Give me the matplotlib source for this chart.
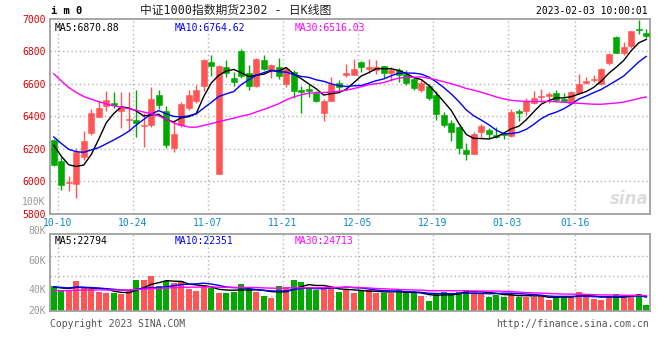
import matplotlib
matplotlib.use("Agg")
import matplotlib.pyplot as plt
import matplotlib.transforms as mtransforms
import numpy as np
import pandas as pd

plt.rcParams['font.family'] = ['DejaVu Sans Mono', 'Noto Sans CJK SC']

# daily bars of IM2302, first bar is 2022-09-30, last is 2023-02-03
opens = [6250, 6125, 5990, 5984, 6147, 6298, 6396, 6463, 6480, 6433,
         6378, 6376, 6340, 6343, 6532, 6431, 6201, 6343, 6451, 6491,
         6585, 6733, 6045, 6700, 6634, 6800, 6666, 6587, 6745, 6684,
         6703, 6597, 6672, 6562, 6568, 6542, 6420, 6495, 6601, 6653,
         6655, 6731, 6688, 6686, 6706, 6665, 6682, 6661, 6625, 6563,
         6584, 6529, 6406, 6355, 6335, 6188, 6168, 6304, 6314, 6284,
         6298, 6278, 6431, 6433, 6478, 6517, 6523, 6539, 6502, 6482,
         6539, 6604, 6620, 6596, 6727, 6886, 6790, 6829, 6931, 6912]
highs = [6258, 6145, 6033, 6206, 6310, 6443, 6492, 6553, 6549, 6549,
         6549, 6559, 6421, 6581, 6560, 6459, 6364, 6485, 6560, 6591,
         6753, 6778, 6713, 6743, 6668, 6810, 6715, 6755, 6776, 6719,
         6755, 6694, 6684, 6587, 6597, 6556, 6505, 6638, 6623, 6718,
         6749, 6739, 6751, 6743, 6708, 6702, 6698, 6682, 6641, 6620,
         6600, 6553, 6427, 6376, 6339, 6233, 6304, 6349, 6325, 6335,
         6304, 6445, 6445, 6512, 6551, 6569, 6549, 6563, 6543, 6553,
         6661, 6641, 6655, 6696, 6788, 6890, 6853, 6926, 6988, 6933]
lows = [6095, 5943, 5937, 5894, 6131, 6284, 6392, 6431, 6449, 6329,
        6314, 6270, 6212, 6333, 6445, 6201, 6181, 6333, 6439, 6483,
        6556, 6648, 6045, 6638, 6587, 6634, 6562, 6577, 6684, 6632,
        6625, 6577, 6512, 6418, 6516, 6485, 6370, 6490, 6550, 6637,
        6651, 6669, 6665, 6661, 6631, 6616, 6610, 6590, 6559, 6549,
        6498, 6376, 6335, 6247, 6168, 6127, 6168, 6268, 6259, 6263,
        6259, 6270, 6372, 6406, 6474, 6488, 6482, 6484, 6488, 6478,
        6535, 6596, 6610, 6590, 6712, 6788, 6773, 6820, 6902, 6882]
closes = [6100, 5974, 5995, 6178, 6247, 6419, 6449, 6498, 6465, 6451,
          6382, 6359, 6343, 6502, 6465, 6221, 6288, 6471, 6532, 6563,
          6745, 6705, 6709, 6662, 6611, 6644, 6587, 6751, 6692, 6715,
          6644, 6688, 6552, 6550, 6556, 6491, 6495, 6597, 6577, 6665,
          6690, 6702, 6700, 6700, 6665, 6686, 6651, 6606, 6574, 6604,
          6508, 6412, 6345, 6304, 6206, 6166, 6290, 6341, 6290, 6268,
          6284, 6425, 6416, 6492, 6512, 6520, 6535, 6498, 6494, 6547,
          6600, 6614, 6627, 6688, 6784, 6790, 6822, 6926, 6928, 6890]
volumes = [42700, 39500, 39500, 46100, 41100, 40400, 38600, 38000, 38000, 37300,
           39100, 46800, 46800, 49500, 42700, 46100, 45000, 46100, 40700, 39400,
           43400, 41100, 38100, 38100, 38800, 44100, 40900, 38800, 36100, 34800,
           42700, 42000, 46800, 45400, 41500, 39800, 42000, 42200, 38600, 39800,
           38000, 40000, 40000, 38000, 37700, 38000, 40700, 37700, 38000, 35900,
           32500, 38200, 38900, 38000, 38900, 40000, 39300, 38000, 35300, 36600,
           35500, 38200, 35500, 35500, 35500, 35900, 33200, 35500, 35900, 36100,
           38400, 35500, 33900, 33200, 35900, 37300, 35900, 36600, 37300, 29800]

# sessions before the window (estimated from where the moving averages start)
prior_closes = [7320, 7200, 7090, 7000, 6920, 6900, 6930, 6800, 6720, 6640,
                6650, 6680, 6780, 6900, 6850, 6950, 6900, 6850, 6600, 6420,
                6370, 6360, 6320, 6290, 6270, 6310, 6260, 6230, 6200]
prior_volumes = [37500, 38800, 39200, 37900, 38600, 38100, 39000, 37600, 38300, 38900,
                 37800, 38500, 38200, 39100, 37700, 38400, 38000, 38600, 37900, 38900,
                 41500, 42800, 41200, 42300, 41900, 42600, 41400, 42100, 41500]

tick_days = [1, 11, 21, 31, 41, 51, 61, 70]
tick_labels = ['10-10', '10-24', '11-07', '11-21', '12-05', '12-19', '01-03', '01-16']
price_ticks = [5800, 6000, 6200, 6400, 6600, 6800, 7000]
vol_labels = [100000, 80000, 60000, 40000, 20000]

price_ma = {'MA5': '6870.88', 'MA10': '6764.62', 'MA30': '6516.03'}
vol_ma = {'MA5': '22794', 'MA10': '22351', 'MA30': '24713'}

RED = '#ff5555'
GREEN = '#00a800'
GRID = '#b4b4b4'
BORDER = '#a0a0a0'
MA_COLORS = {'MA5': 'black', 'MA10': '#0000ff', 'MA30': '#ff00ff'}

o = np.array(opens)
h = np.array(highs)
l = np.array(lows)
c = np.array(closes)
v = np.array(volumes)
x = np.arange(len(c))
col = np.where(c >= o, RED, GREEN)

fig = plt.figure(figsize=(6.6, 3.6), dpi=100)
ax = fig.add_axes([50 / 660, 1 - 213.5 / 360, 600 / 660, 195 / 360])
axv = fig.add_axes([50 / 660, 1 - 311 / 360, 600 / 660, 76.7 / 360])

for a in (ax, axv):
    a.set_xlim(-0.5, len(c) - 0.5)
    for s in a.spines.values():
        s.set_color(BORDER)
        s.set_linewidth(1.3)
    for d in tick_days:
        a.axvline(d - 0.5, color=GRID, lw=1, ls=(0, (1, 2)), zorder=0)

# price panel
ax.set_ylim(price_ticks[0], price_ticks[-1])
for p in price_ticks[1:-1]:
    ax.axhline(p, color=GRID, lw=1, ls=(0, (1, 2)), zorder=0)
ax.vlines(x, l, h, colors=col, lw=1, zorder=2)
ax.bar(x, np.maximum(np.abs(c - o), 5), bottom=np.minimum(o, c), width=0.76,
       color=col, edgecolor=col, lw=0.4, zorder=3)

all_c = pd.Series(prior_closes + closes, dtype=float)
n0 = len(prior_closes)
for name, win in (('MA5', 5), ('MA10', 10), ('MA30', 30)):
    ma = all_c.rolling(win).mean().iloc[n0:].values
    ax.plot(x, ma, color=MA_COLORS[name], lw=1, zorder=4)

ax.set_yticks(price_ticks)
ax.set_yticklabels([str(p) for p in price_ticks])
ax.tick_params(axis='y', length=0, pad=3, labelsize=7, labelcolor='#dd0000')
ax.set_xticks(np.array(tick_days) - 0.5)
ax.set_xticklabels(tick_labels)
ax.tick_params(axis='x', length=0, pad=3.2, labelsize=7, labelcolor='#0a87d8')

for name, xp in (('MA5', 0.008), ('MA10', 0.207), ('MA30', 0.407)):
    ax.text(xp, 0.975, f'{name}:{price_ma[name]}', transform=ax.transAxes,
            ha='left', va='top', fontsize=7, color=MA_COLORS[name])

ax.text(0.998, 0.03, 'sina', transform=ax.transAxes, ha='right', va='bottom',
        fontsize=12, style='italic', fontweight='bold', color='#dcdcdc',
        family='DejaVu Sans', zorder=1)

# volume panel
vmin, vmax = 25800, 77800
axv.set_ylim(vmin, vmax)
axv.hlines([0.2, 0.46, 0.72], 0, 1, transform=axv.transAxes, color=GRID, lw=1,
           ls=(0, (1, 2)), zorder=0)
axv.bar(x, v, width=0.76, color=col, lw=0, zorder=2)

all_v = pd.Series(prior_volumes + volumes, dtype=float)
n0v = len(prior_volumes)
for name, win in (('MA5', 5), ('MA10', 10), ('MA30', 30)):
    ma = all_v.rolling(win).mean().iloc[n0v:].values
    axv.plot(x, ma, color=MA_COLORS[name], lw=1, zorder=4)

axv.set_xticks([])
axv.set_yticks([])
trans = mtransforms.blended_transform_factory(axv.transAxes, axv.transData)
for lv in vol_labels:
    axv.text(-0.007, max(lv, vmin), f'{lv // 1000}K', transform=trans, ha='right',
             va='center', fontsize=7, color='#999999', clip_on=False)

for name, xp in (('MA5', 0.008), ('MA10', 0.207), ('MA30', 0.407)):
    axv.text(xp, 0.975, f'{name}:{vol_ma[name]}', transform=axv.transAxes,
             ha='left', va='top', fontsize=7, color=MA_COLORS[name])

# header and footer
fig.text(51 / 660, 1 - 11.5 / 360, 'i m 0', ha='left', va='center', fontsize=7.5,
         fontweight='bold')
fig.text(236 / 660, 1 - 10 / 360, '中证1000指数期货2302 - 日K线图', ha='center',
         va='center', fontsize=8.5, color='#222222')
fig.text(648 / 660, 1 - 11.5 / 360, '2023-02-03 10:00:01', ha='right', va='center',
         fontsize=7)
fig.text(50 / 660, 1 - 324 / 360, 'Copyright 2023 SINA.COM', ha='left', va='center',
         fontsize=7, color='#555555')
fig.text(649 / 660, 1 - 324 / 360, 'http://finance.sina.com.cn', ha='right',
         va='center', fontsize=7, color='#555555')

fig.savefig('out.png', dpi=100)
